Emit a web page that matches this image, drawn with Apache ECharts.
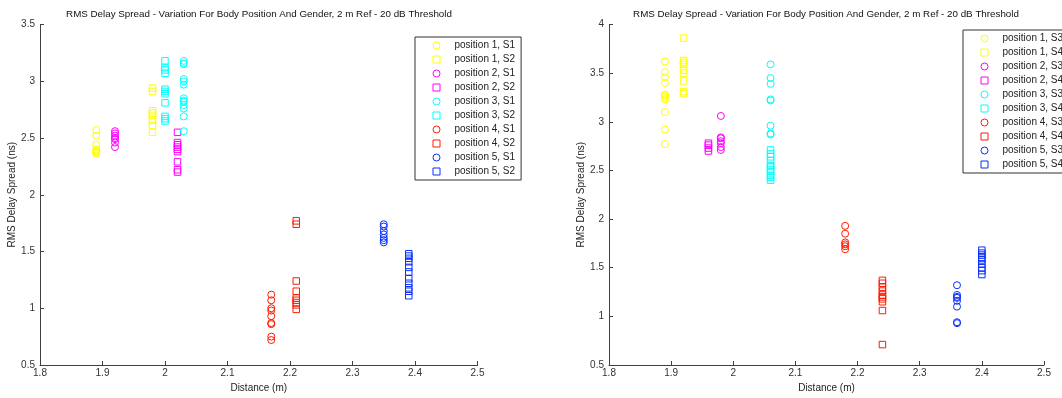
<!DOCTYPE html>
<html>
<head>
<meta charset="utf-8">
<script src="https://cdn.jsdelivr.net/npm/echarts@6/dist/echarts.min.js"></script>
<style>html,body{margin:0;padding:0;background:#fff}#c{width:1062px;height:398px}</style>
</head>
<body>
<div id="c"></div>
<script>
// ---------- data (left panel: S1 / S2) ----------
const titleText = 'RMS Delay Spread - Variation For Body Position And Gender, 2 m Ref - 20 dB Threshold';
const xLabel = 'Distance (m)';
const yLabel = 'RMS Delay Spread (ns)';

const leftNames = ['position 1, S1','position 1, S2','position 2, S1','position 2, S2','position 3, S1','position 3, S2','position 4, S1','position 4, S2','position 5, S1','position 5, S2'];
const leftX = [1.89, 1.98, 1.92, 2.02, 2.03, 2.00, 2.17, 2.21, 2.35, 2.39];
const leftP1S1 = [2.57, 2.52, 2.44, 2.40, 2.39, 2.38, 2.37, 2.36];
const leftP1S2 = [2.94, 2.91, 2.74, 2.72, 2.70, 2.66, 2.61, 2.55];
const leftP2S1 = [2.56, 2.54, 2.52, 2.50, 2.49, 2.46, 2.42];
const leftP2S2 = [2.55, 2.46, 2.44, 2.42, 2.40, 2.38, 2.29, 2.22, 2.20];
const leftP3S1 = [3.18, 3.16, 3.15, 3.02, 3.00, 2.97, 2.85, 2.83, 2.82, 2.79, 2.76, 2.69, 2.56];
const leftP3S2 = [3.18, 3.12, 3.10, 3.07, 2.93, 2.91, 2.89, 2.81, 2.69, 2.67, 2.65];
const leftP4S1 = [1.12, 1.07, 1.00, 0.98, 0.93, 0.87, 0.86, 0.75, 0.72];
const leftP4S2 = [1.77, 1.74, 1.24, 1.15, 1.09, 1.07, 1.05, 1.03, 0.99];
const leftP5S1 = [1.74, 1.72, 1.68, 1.65, 1.62, 1.60, 1.58];
const leftP5S2 = [1.48, 1.46, 1.44, 1.41, 1.36, 1.32, 1.26, 1.22, 1.18, 1.15, 1.11];
const leftY = [leftP1S1, leftP1S2, leftP2S1, leftP2S2, leftP3S1, leftP3S2, leftP4S1, leftP4S2, leftP5S1, leftP5S2];

// ---------- data (right panel: S3 / S4) ----------
const rightNames = ['position 1, S3','position 1, S4','position 2, S3','position 2, S4','position 3, S3','position 3, S4','position 4, S3','position 4, S4','position 5, S3','position 5, S4'];
const rightX = [1.89, 1.92, 1.98, 1.96, 2.06, 2.06, 2.18, 2.24, 2.36, 2.40];
const rightP1S3 = [3.62, 3.51, 3.46, 3.40, 3.28, 3.27, 3.25, 3.23, 3.10, 2.92, 2.77];
const rightP1S4 = [3.86, 3.63, 3.61, 3.59, 3.53, 3.50, 3.42, 3.31, 3.29];
const rightP2S3 = [3.06, 2.84, 2.83, 2.80, 2.78, 2.74, 2.71];
const rightP2S4 = [2.78, 2.76, 2.73, 2.70];
const rightP3S3 = [3.59, 3.45, 3.39, 3.23, 3.22, 2.96, 2.88, 2.87];
const rightP3S4 = [2.71, 2.67, 2.64, 2.60, 2.55, 2.54, 2.51, 2.49, 2.45, 2.43, 2.40];
const rightP4S3 = [1.93, 1.85, 1.76, 1.74, 1.72, 1.69];
const rightP4S4 = [1.37, 1.34, 1.30, 1.26, 1.22, 1.20, 1.18, 1.15, 1.06, 0.71];
const rightP5S3 = [1.32, 1.22, 1.20, 1.19, 1.16, 1.10, 0.94, 0.93];
const rightP5S4 = [1.68, 1.65, 1.63, 1.60, 1.58, 1.54, 1.50, 1.47, 1.43];
const rightY = [rightP1S3, rightP1S4, rightP2S3, rightP2S4, rightP3S3, rightP3S4, rightP4S3, rightP4S4, rightP5S3, rightP5S4];

const xTicks = {min: 1.8, max: 2.5, interval: 0.1};
const leftYTicks = {min: 0.5, max: 3.5, interval: 0.5};
const rightYTicks = {min: 0.5, max: 4, interval: 0.5};

// ---------- styling ----------
const colors = ['#ffff00','#ffff00','#ff00ff','#ff00ff','#00ffff','#00ffff','#ff1a00','#ff1a00','#0a30ff','#0a30ff'];
const shapes = ['circle','rect','circle','rect','circle','rect','circle','rect','circle','rect'];
const FONT = 'Liberation Sans, Arial, sans-serif';
const axisColor = '#404040';

function xAxisOpt(gi) {
  return {
    type: 'value', gridIndex: gi, min: xTicks.min, max: xTicks.max, interval: xTicks.interval,
    name: xLabel, nameLocation: 'middle', nameGap: 18,
    nameTextStyle: {fontFamily: FONT, fontSize: 10, color: '#222'},
    axisLine: {show: true, lineStyle: {color: axisColor, width: 1}},
    axisTick: {show: true, inside: true, length: 4, lineStyle: {color: axisColor}},
    axisLabel: {fontFamily: FONT, fontSize: 10, color: '#333', margin: 3},
    splitLine: {show: false}
  };
}
function yAxisOpt(gi, t, gap) {
  return {
    type: 'value', gridIndex: gi, min: t.min, max: t.max, interval: t.interval,
    name: yLabel, nameLocation: 'middle', nameGap: gap,
    nameTextStyle: {fontFamily: FONT, fontSize: 10, color: '#222'},
    axisLine: {show: true, lineStyle: {color: axisColor, width: 1}},
    axisTick: {show: true, inside: true, length: 4, lineStyle: {color: axisColor}},
    axisLabel: {fontFamily: FONT, fontSize: 10, color: '#333', margin: 5},
    splitLine: {show: false}
  };
}
function makeSeries(names, xs, ys, gi) {
  return names.map((n, i) => ({
    name: n, type: 'scatter', xAxisIndex: gi, yAxisIndex: gi,
    symbol: shapes[i], symbolSize: shapes[i] === 'circle' ? 7 : 6.5,
    itemStyle: {color: 'rgba(0,0,0,0)', borderColor: colors[i], borderWidth: 1, opacity: 1},
    emphasis: {disabled: true},
    data: ys[i].map(v => [xs[i], v])
  }));
}
function legendOpt(names, left, top) {
  return {
    data: names, orient: 'vertical', left: left, top: top,
    itemWidth: 7, itemHeight: 7, itemGap: 0,
    padding: [1.5, 6, 1.5, 17.5],
    borderColor: '#333', borderWidth: 1, backgroundColor: '#fff',
    itemStyle: {borderWidth: 1},
    textStyle: {fontFamily: FONT, fontSize: 10, color: '#222', lineHeight: 14, padding: [0, 0, 0, 9.5]},
    selectedMode: false
  };
}

const chart = echarts.init(document.getElementById('c'), null, {renderer: 'canvas'});
chart.setOption({
  animation: false,
  backgroundColor: '#fff',
  grid: [
    {left: 40, top: 24.5, width: 437.5, height: 344},
    {left: 609, top: 24.5, width: 435, height: 344}
  ],
  xAxis: [xAxisOpt(0), xAxisOpt(1)],
  yAxis: [yAxisOpt(0, leftYTicks, 23), yAxisOpt(1, rightYTicks, 22)],
  legend: [legendOpt(leftNames, 415, 37), legendOpt(rightNames, 963, 30)],
  graphic: [
    {type: 'text', x: 259, y: 14, style: {text: titleText, align: 'center', verticalAlign: 'middle', fontFamily: FONT, fontSize: 9.8, fill: '#111'}},
    {type: 'text', x: 826, y: 14, style: {text: titleText, align: 'center', verticalAlign: 'middle', fontFamily: FONT, fontSize: 9.8, fill: '#111'}}
  ],
  series: makeSeries(leftNames, leftX, leftY, 0).concat(makeSeries(rightNames, rightX, rightY, 1))
});
</script>
</body>
</html>
